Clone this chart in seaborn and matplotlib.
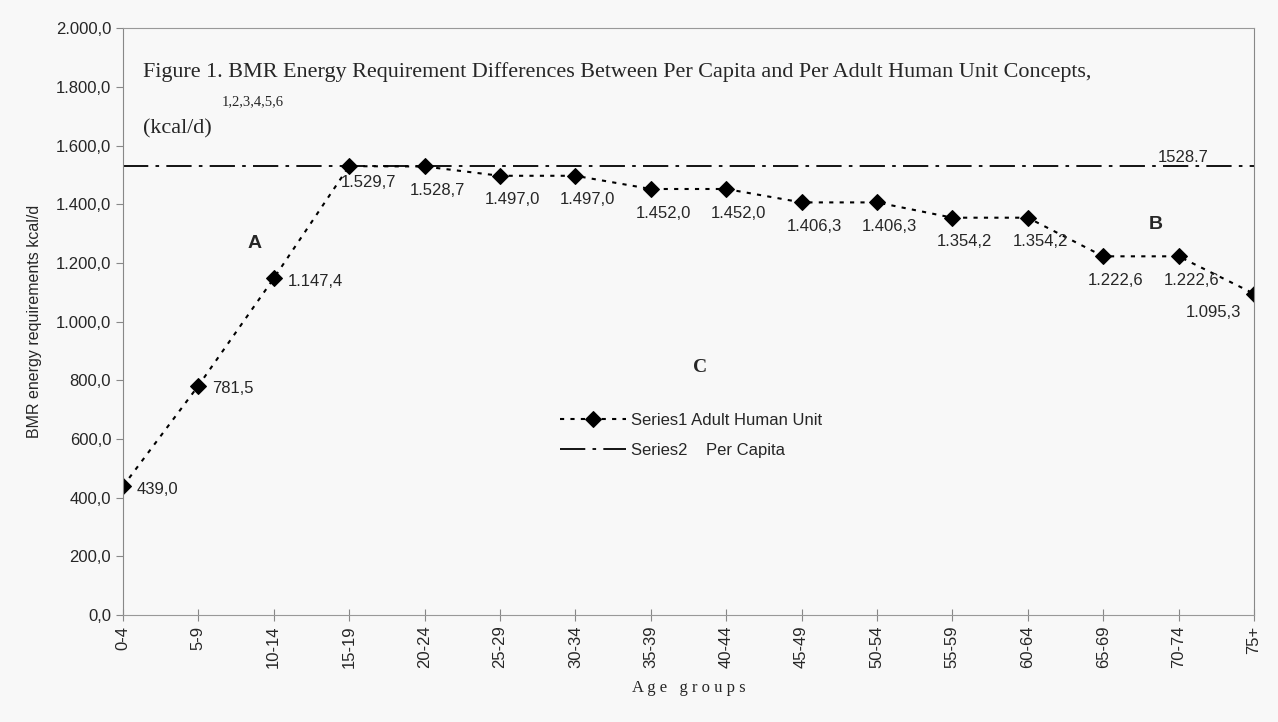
import matplotlib
matplotlib.use('Agg')
import matplotlib.pyplot as plt
import seaborn as sns
import pandas as pd
from matplotlib.ticker import FuncFormatter


age_groups = ['0-4', '5-9', '10-14', '15-19', '20-24', '25-29', '30-34', '35-39',
              '40-44', '45-49', '50-54', '55-59', '60-64', '65-69', '70-74', '75+']
adult_unit = [439.0, 781.5, 1147.4, 1529.7, 1528.7, 1497.0, 1497.0, 1452.0,
              1452.0, 1406.3, 1406.3, 1354.2, 1354.2, 1222.6, 1222.6, 1095.3]
per_capita = 1528.7
y_ticks = [0, 200, 400, 600, 800, 1000, 1200, 1400, 1600, 1800, 2000]


def euro_fmt(v, pos=None):
    # 1.529,7 style numbers
    s = f'{v:,.1f}'
    return s.replace(',', 'X').replace('.', ',').replace('X', '.')


sns.set_style('ticks')
plt.rcParams['font.family'] = ['Liberation Sans', 'DejaVu Sans']

df = pd.DataFrame({'age': age_groups, 'bmr': adult_unit})

fig = plt.figure(figsize=(12.78, 7.22), dpi=100, facecolor='#f8f8f8')
ax = fig.add_axes([0.0962, 0.148, 0.885, 0.813])
ax.set_facecolor('#f8f8f8')

sns.lineplot(data=df, x='age', y='bmr', ax=ax, color='black', linestyle=(0, (2, 3)),
             linewidth=1.5, marker='D', markersize=8, markeredgecolor='black',
             label='Series1 Adult Human Unit', sort=False)
ax.axhline(per_capita, color='black', linewidth=1.3, dashes=(14, 4, 2, 4),
           label='Series2    Per Capita')

ax.set_xlim(0, len(age_groups) - 1)
ax.set_ylim(0, 2000)
ax.set_yticks(y_ticks)
ax.yaxis.set_major_formatter(FuncFormatter(euro_fmt))
ax.tick_params(axis='y', labelsize=12, direction='out', length=5, color='#888888')
ax.tick_params(axis='x', labelsize=12, direction='inout', length=8, color='#888888',
               labelrotation=90)

for side in ['left', 'right']:
    ax.spines[side].set_visible(True)
    ax.spines[side].set_color('#888888')
for side in ['top', 'bottom']:
    ax.spines[side].set_visible(True)
    ax.spines[side].set_color('#999999')
    ax.spines[side].set_linestyle((0, (2, 1)))

# point labels
n = len(adult_unit)
for i, v in enumerate(adult_unit):
    if i < 3:
        off, ha, va = (10, -2), 'left', 'center'
    elif i == 3:
        off, ha, va = (14, -6), 'center', 'top'
    elif i == n - 1:
        off, ha, va = (-29, -8), 'center', 'top'
    else:
        off, ha, va = (9, -12), 'center', 'top'
    ax.annotate(euro_fmt(v), (i, v), xytext=off, textcoords='offset points',
                ha=ha, va=va, fontsize=12)

ax.annotate('1528.7', (len(age_groups) - 1, per_capita), xytext=(-51, 1),
            textcoords='offset points', ha='center', va='bottom', fontsize=12)

ax.text(1.75, 1265, 'A', fontsize=14, fontweight='bold', ha='center', va='center')
ax.text(13.7, 1330, 'B', fontsize=14, fontweight='bold', ha='center', va='center')
ax.text(7.65, 845, 'C', fontsize=14, fontweight='bold', ha='center', va='center',
        family='Liberation Serif')

ax.text(0.0177, 0.925, 'Figure 1. BMR Energy Requirement Differences Between Per Capita '
        'and Per Adult Human Unit Concepts,', transform=ax.transAxes, fontsize=15.9,
        family='Liberation Serif', va='center', ha='left')
ax.text(0.0875, 0.874, '1,2,3,4,5,6', transform=ax.transAxes, fontsize=10.5,
        family='Liberation Serif', va='center', ha='left')
ax.text(0.0177, 0.828, '(kcal/d)', transform=ax.transAxes, fontsize=15.9,
        family='Liberation Serif', va='center', ha='left')

ax.set_xlabel('A g e   g r o u p s', fontsize=12, family='Liberation Serif', labelpad=8)
ax.set_ylabel('BMR energy requirements kcal/d', fontsize=11.5, labelpad=10)

ax.legend(loc='upper left', bbox_to_anchor=(0.373, 0.37), frameon=False, fontsize=12,
          handlelength=4, handletextpad=0.3, labelspacing=0.9)

fig.savefig('out.png', dpi=100, facecolor=fig.get_facecolor())
